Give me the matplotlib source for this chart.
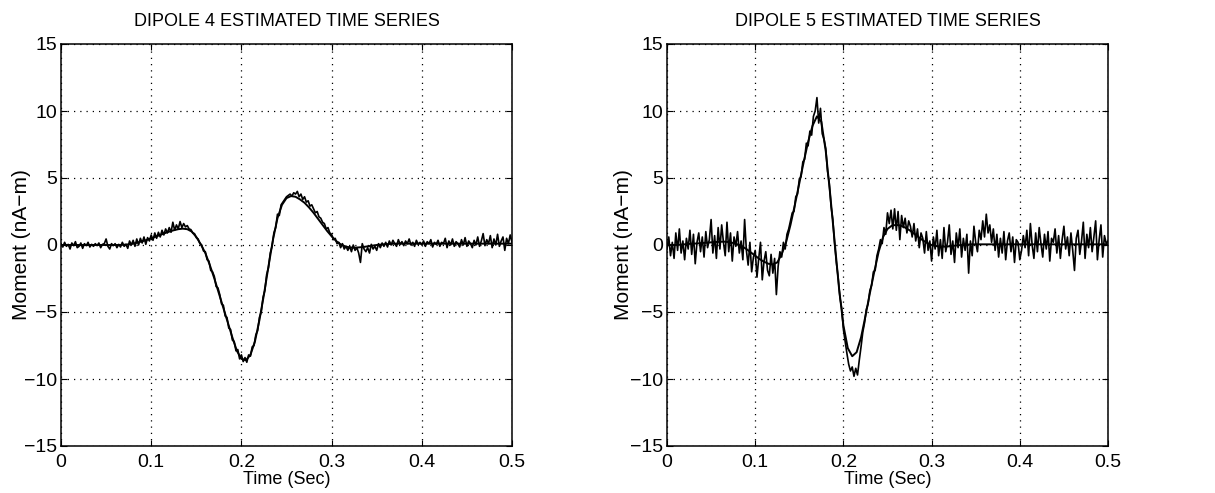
import numpy as np
import matplotlib
matplotlib.use("Agg")
import matplotlib.pyplot as plt

plt.rcParams['font.family'] = ['Liberation Sans', 'DejaVu Sans']

# ---- data ----
# smooth (true) moments, sampled every 5 ms
t_smooth = [i * 0.005 for i in range(101)]
smooth4 = [0, 0, 0, 0, 0, 0, 0, 0, 0, 0, 0, 0, 0, 0, 0.02,
           0.05, 0.1, 0.18, 0.28, 0.38, 0.5, 0.62, 0.75, 0.88, 1.0,
           1.1, 1.18, 1.22, 1.18, 1.0, 0.6, 0.05, -0.6, -1.5, -2.5,
           -3.6, -4.7, -5.8, -6.9, -7.9, -8.5, -8.6, -8.2, -7.2, -5.6,
           -3.7, -1.6, 0.4, 2.0, 3.0, 3.5, 3.65, 3.6, 3.4, 3.15,
           2.8, 2.4, 1.95, 1.5, 1.05, 0.65, 0.3, 0.05, -0.1, -0.18,
           -0.2, -0.18, -0.15, -0.1, -0.05, 0.0, 0.03, 0.06, 0.08, 0.1,
           0.1, 0.1, 0.1, 0.1, 0.1, 0.1, 0.1, 0.1, 0.1, 0.1,
           0.1, 0.1, 0.1, 0.1, 0.1, 0.1, 0.1, 0.1, 0.1, 0.1,
           0.1, 0.1, 0.1, 0.1, 0.1, 0.1]
smooth5 = [0, 0, 0, 0.02, 0.05, 0.08, 0.1, 0.12, 0.15, 0.17,
           0.2, 0.22, 0.24, 0.25, 0.22, 0.15, 0.05, -0.1, -0.3, -0.55,
           -0.8, -1.05, -1.25, -1.4, -1.45, -1.3, -0.7, 0.2, 1.5, 3.0,
           4.6, 6.2, 7.7, 8.9, 9.6, 9.2, 7.0, 3.8, 0.3, -3.2,
           -6.0, -7.7, -8.3, -8.0, -6.9, -5.3, -3.6, -2.0, -0.5, 0.6,
           1.2, 1.45, 1.5, 1.45, 1.3, 1.1, 0.85, 0.6, 0.35, 0.15,
           0.0, -0.08, -0.12, -0.12, -0.1, -0.06, -0.02, 0.0, 0.02, 0.05,
           0.05, 0.05, 0.05, 0.05, 0.05, 0.05, 0.05, 0.05, 0.05, 0.05,
           0.05, 0.05, 0.05, 0.05, 0.05, 0.05, 0.05, 0.05, 0.05, 0.05,
           0.05, 0.05, 0.05, 0.05, 0.05, 0.05, 0.05, 0.05, 0.05, 0.05,
           0.05]

# estimated (noisy) moments, sampled every 2 ms
t_est = [i * 0.002 for i in range(251)]
est4 = [0.1, -0.15, 0.2, -0.1, 0.05, -0.3, 0.15, -0.05, 0.25, -0.2,
        -0.1, 0.15, -0.25, 0.1, -0.05, 0.2, -0.15, 0.05, -0.1, 0.1,
        -0.05, 0.15, -0.2, 0.05, 0.1, 0.45, -0.1, -0.3, 0.1, -0.05,
        0.1, -0.2, 0.05, -0.15, 0.2, -0.1, 0.05, -0.25, 0.3, 0.0,
        0.35, -0.1, 0.45, 0.0, 0.5, 0.15, 0.6, 0.05, 0.55, 0.3,
        0.75, 0.35, 0.9, 0.5, 0.95, 0.6, 1.1, 0.75, 1.2, 0.9,
        1.3, 0.95, 1.7, 1.1, 1.5, 1.2, 1.75, 1.3, 1.6, 1.35,
        1.45, 1.2, 1.15, 0.9, 0.85, 0.55, 0.45, 0.1, 0.0, -0.45,
        -0.5, -1.1, -1.2, -1.9, -2.0, -2.35, -3.1, -3.2, -3.7, -4.4,
        -4.5, -5.3, -5.4, -6.2, -6.3, -7.1, -7.2, -7.9, -7.8, -8.5,
        -8.2, -8.7, -8.4, -8.75, -8.2, -8.3, -7.6, -7.5, -6.7, -6.4,
        -5.4, -5.0, -3.9, -3.4, -2.2, -1.7, -0.6, -0.1, 0.9, 1.3,
        2.3, 2.2, 3.0, 3.2, 3.4, 3.6, 3.7, 3.8, 3.65, 3.9,
        3.8, 4.0, 3.6, 3.8, 3.4, 3.6, 3.2, 3.3, 2.9, 3.0,
        2.7, 2.4, 2.5, 2.1, 2.0, 1.7, 1.6, 1.2, 1.3, 0.9,
        0.8, 0.4, 0.5, 0.1, 0.2, -0.2, 0.1, -0.3, -0.1, -0.4,
        -0.1, -0.5, 0.0, -0.4, -0.2, -0.6, -1.3, 0.1, -0.3, -0.5,
        -0.2, -0.6, 0.05, -0.3, -0.1, -0.4, 0.1, -0.2, 0.15, -0.1,
        0.2, -0.15, 0.3, 0.0, 0.35, 0.1, -0.1, 0.4, 0.05, 0.25,
        -0.05, 0.3, 0.1, 0.45, 0.0, 0.2, -0.1, 0.35, 0.05, 0.2,
        0.0, 0.3, -0.1, 0.25, 0.1, 0.4, -0.15, 0.2, 0.05, 0.35,
        -0.1, 0.2, 0.1, 0.5, -0.2, 0.3, 0.0, 0.45, -0.1, 0.25,
        0.1, -0.15, 0.4, 0.0, 0.55, -0.1, 0.3, 0.1, -0.2, 0.35,
        0.0, 0.6, -0.1, 0.3, 0.85, -0.05, 0.4, 0.1, 0.7, -0.2,
        0.45, 0.0, 0.8, -0.1, 0.3, 0.6, -0.4, 0.5, 0.1, 0.75,
        0.2]
est5 = [-0.3, 0.6, -0.8, 0.2, -1.0, 0.9, -0.4, 1.2, -0.6, 0.3,
        -1.1, 0.5, -0.3, 1.1, -0.7, 0.8, -1.4, 0.2, 0.9, -0.5,
        0.6, -0.9, 1.0, -0.2, 0.4, 1.9, -0.6, 0.7, -1.0, 1.3,
        -0.3, 1.5, 0.2, -0.8, 1.7, -0.5, 0.9, -1.2, 0.6, -0.1,
        1.0, -0.6, 0.3, -1.1, 1.9, -0.4, -1.5, 0.2, -2.0, -0.9,
        -0.4, -2.4, -1.0, 0.2, -2.6, -1.2, -0.5, -1.9, -2.3, -0.7,
        -2.1, -1.0, -3.7, -1.6, -0.5, -0.9, 0.2, -0.3, 0.8, 1.2,
        1.8, 2.4, 2.5, 3.6, 3.8, 4.9, 5.1, 6.2, 6.4, 7.6,
        7.4, 8.5, 8.2, 9.6, 10.0, 11.0, 9.1, 10.2, 8.3, 7.9,
        7.2, 5.5, 4.6, 2.9, 1.9, 0.1, -1.3, -2.4, -3.9, -4.7,
        -6.3, -7.2, -8.1, -8.9, -9.4, -9.1, -9.8, -9.2, -9.7, -8.6,
        -7.6, -6.5, -5.8, -4.8, -4.4, -3.4, -3.0, -2.0, -1.9, -0.8,
        -0.3, 0.4, 0.1, 1.3, 0.8, 2.4, 1.6, 2.6, 1.2, 2.7,
        1.1, 2.5, 0.4, 2.2, 1.3, 2.0, 0.9, 1.8, 1.4, 0.6,
        1.6, 0.3, 1.2, -0.2, 0.9, 0.5, -0.6, 1.0, -0.4, 0.3,
        -1.2, 0.6, -0.3, 1.1, -0.8, 0.4, -1.0, 1.3, -0.5, 0.2,
        1.5, -0.7, 0.3, -1.3, 0.9, -0.2, 1.2, -0.9, 0.5, -0.4,
        0.8, -2.1, 0.3, -0.8, 1.4, 0.2, -0.5, 1.1, 0.4, 1.8,
        0.6, 2.3, 0.9, 1.5, 0.2, 1.2, -0.4, 0.8, -0.9, 0.5,
        -0.6, 1.0, -1.1, 0.3, 0.9, -0.5, 0.6, -1.3, 0.4, 0.2,
        -1.1, -0.4, 0.7, -0.2, 1.1, -0.8, 1.6, 0.0, -1.0, 0.9,
        -0.5, 1.3, 0.1, -0.9, 0.8, -0.3, 1.0, -1.2, 0.5, 0.2,
        1.2, -0.6, 0.7, -1.0, 0.4, 1.4, -0.3, 0.6, -0.8, 0.9,
        -0.4, -1.9, 0.5, 1.1, -0.7, 0.3, 1.7, -1.0, 0.8, -0.2,
        1.3, -0.5, 0.6, 1.8, -1.1, 0.4, 1.5, -0.9, 0.7, 0.1,
        0.3]

titles = ["DIPOLE 4 ESTIMATED TIME SERIES", "DIPOLE 5 ESTIMATED TIME SERIES"]
x_ticks = [0, 0.1, 0.2, 0.3, 0.4, 0.5]
x_tick_labels = ["0", "0.1", "0.2", "0.3", "0.4", "0.5"]
y_ticks = [-15, -10, -5, 0, 5, 10, 15]
y_tick_labels = ["\u221215", "\u221210", "\u22125", "0", "5", "10", "15"]
x_label = "Time (Sec)"
y_label = "Moment (nA\u2212m)"

# ---- figure ----
W, H = 1215, 493
fig = plt.figure(figsize=(W / 100, H / 100), dpi=100)
boxes = [(61, 44, 512, 446), (667, 44, 1108, 446)]
ylabel_x = [31, 633]
series = [(smooth4, est4), (smooth5, est5)]

for (x0, y0, x1, y1), title, (sm, es), lx in zip(boxes, titles, series, ylabel_x):
    ax = fig.add_axes([x0 / W, 1 - y1 / H, (x1 - x0) / W, (y1 - y0) / H])
    ax.plot(t_est, es, color="black", lw=1.2)
    ax.plot(t_smooth, sm, color="black", lw=1.4)
    ax.set_xlim(0, 0.5)
    ax.set_ylim(-15, 15)
    ax.set_xticks(x_ticks)
    ax.set_xticklabels(x_tick_labels)
    ax.set_yticks(y_ticks)
    ax.set_yticklabels(y_tick_labels)
    ax.tick_params(direction="in", top=True, right=True, length=4,
                   labelsize=14, width=0.8)
    ax.tick_params(axis="x", pad=6)
    ax.tick_params(axis="y", pad=3)
    ax.grid(True, color="black", linestyle=(0, (1, 4)), linewidth=0.9)
    for s in ax.spines.values():
        s.set_linewidth(1.1)
    ax.set_xlabel(x_label, fontsize=13, labelpad=0)
    ax.set_ylabel(y_label, fontsize=15)
    ax.yaxis.set_label_coords((lx - x0) / (x1 - x0), 0.5)
    ax.set_title(title, fontsize=13, pad=13)

fig.savefig("out.png", dpi=100)
